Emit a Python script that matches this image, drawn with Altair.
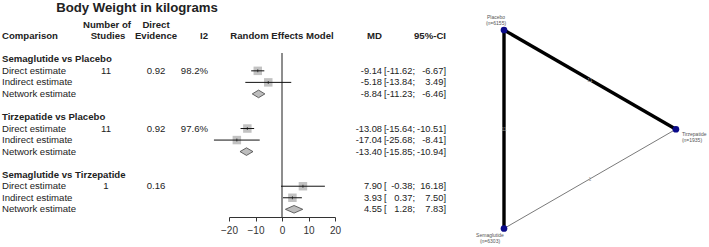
import altair as alt
import pandas as pd

# ---- Forest plot data (mean difference in body weight, kg) ----
comparisons = ["Semaglutide vs Placebo", "Tirzepatide vs Placebo", "Semaglutide vs Tirzepatide"]
n_studies = ["11", "11", "1"]
direct_evidence = ["0.92", "0.92", "0.16"]
i2 = ["98.2%", "97.6%", ""]
estimate_types = ["Direct estimate", "Indirect estimate", "Network estimate"]

md = [[-9.14, -5.18, -8.84], [-13.08, -17.04, -13.40], [7.90, 3.93, 4.55]]
ci_lower = [[-11.62, -13.84, -11.23], [-15.64, -25.68, -15.85], [-0.38, 0.37, 1.28]]
ci_upper = [[-6.67, 3.49, -6.46], [-10.51, -8.41, -10.94], [16.18, 7.50, 7.83]]

axis_ticks = [-20, -10, 0, 10, 20]

# ---- Network graph data ----
treatments = ["Placebo", "Tirzepatide", "Semaglutide"]
patients = [6155, 1935, 6303]
node_x = [-0.5, 1.0, -0.5]
node_y = [0.866, 0.0, -0.866]
edge_from = ["Placebo", "Placebo", "Semaglutide"]
edge_to = ["Tirzepatide", "Semaglutide", "Tirzepatide"]
edge_studies = [11, 11, 1]

FONT = "Liberation Sans"
INK = "#222222"
FS = 9.6

# ---- Tables built from the arrays ----
titles = pd.DataFrame({"line": [5 * g for g in range(3)], "text": comparisons})

est_rows = []
for g in range(3):
    for k in range(3):
        est_rows.append({
            "line": 5 * g + 1 + k,
            "kind": estimate_types[k],
            "md": md[g][k],
            "lo": ci_lower[g][k],
            "hi": ci_upper[g][k],
            "md_txt": f"{md[g][k]:.2f}",
            "lo_txt": f"{ci_lower[g][k]:.2f};",
            "hi_txt": f"{ci_upper[g][k]:.2f}]",
            "studies": n_studies[g] if k == 0 else "",
            "evidence": direct_evidence[g] if k == 0 else "",
            "i2": i2[g] if k == 0 else "",
        })
est = pd.DataFrame(est_rows)
squares = est[est["kind"] != "Network estimate"]
networks = est[est["kind"] == "Network estimate"]

# diamond outline: lower bound, point estimate, upper bound
half_h = 0.33
dia_rows = []
for _, r in networks.iterrows():
    for xv, w in ((r["lo"], 0.0), (r["md"], 1.0), (r["hi"], 0.0)):
        dia_rows.append({"line": r["line"], "x": xv,
                         "top": r["line"] - half_h * w, "bot": r["line"] + half_h * w})
diamonds = pd.DataFrame(dia_rows)

ticks_df = pd.DataFrame({"tick": axis_ticks})

# ---- Scales ----
yscale = alt.Scale(domain=[0, 13], range=[59.3, 209.3], nice=False, zero=False)
xscale = alt.Scale(domain=[-20, 20], range=[229, 335], nice=False, zero=False)
x_axis = alt.Axis(values=axis_ticks, offset=-30, grid=False, title=None, tickSize=4,
                  labelFontSize=10, labelPadding=4, labelFont=FONT, labelColor="#333333",
                  domainColor="#333333", tickColor="#333333", labelFlush=False)


def Y(field="line"):
    return alt.Y(f"{field}:Q", scale=yscale, axis=None)


def X(field):
    return alt.X(f"{field}:Q", scale=xscale, axis=x_axis)


def text_col(df, field, x_px, align="left", bold=False, size=FS):
    return alt.Chart(df).mark_text(
        align=align, baseline="middle", font=FONT, fontSize=size,
        fontWeight="bold" if bold else "normal", color=INK
    ).encode(x=alt.value(x_px), y=Y(), text=f"{field}:N")


def header(text, x_px, line, align="left"):
    return alt.Chart(pd.DataFrame({"line": [line], "t": [text]})).mark_text(
        align=align, baseline="middle", font=FONT, fontSize=FS, fontWeight="bold", color=INK
    ).encode(x=alt.value(x_px), y=Y(), text="t:N")


title = alt.Chart(pd.DataFrame({"t": ["Body Weight in kilograms"]})).mark_text(
    align="center", baseline="middle", font=FONT, fontSize=13.2, fontWeight="bold", color=INK
).encode(x=alt.value(137), y=alt.value(8), text="t:N")

headers = [
    header("Comparison", 2, -2),
    header("Number of", 107, -3, "center"),
    header("Studies", 108, -2, "center"),
    header("Direct", 156, -3, "center"),
    header("Evidence", 156, -2, "center"),
    header("I2", 208, -2, "right"),
    header("MD", 382, -2, "right"),
    header("95%-CI", 446, -2, "right"),
    alt.Chart(pd.DataFrame({"line": [-2], "t": ["Random Effects Model"]})).mark_text(
        align="center", baseline="middle", font=FONT, fontSize=FS, fontWeight="bold", color=INK
    ).encode(x=alt.X(datum=0, scale=xscale, axis=x_axis), y=Y(), text="t:N"),
]

CI_FS = 9.3
table = [
    text_col(titles, "text", 2, bold=True),
    text_col(est, "kind", 2),
    text_col(est, "studies", 106, "center"),
    text_col(est, "evidence", 156, "center"),
    text_col(est, "i2", 208, "right"),
    text_col(est, "md_txt", 382, "right", size=CI_FS),
    alt.Chart(est).mark_text(align="left", baseline="middle", font=FONT, fontSize=CI_FS, color=INK)
    .encode(x=alt.value(384), y=Y(), text=alt.value("[")),
    text_col(est, "lo_txt", 415, "right", size=CI_FS),
    text_col(est, "hi_txt", 446, "right", size=CI_FS),
]

zero_line = alt.Chart(ticks_df).mark_rule(color="#8a8a8a", strokeWidth=1).encode(
    x=alt.X(datum=0, scale=xscale, axis=x_axis), y=alt.value(53), y2=alt.value(217)
)

sq = alt.Chart(squares).mark_square(size=72, color="#c2c2c2", opacity=1).encode(x=X("md"), y=Y())
ci = alt.Chart(squares).mark_rule(color="#111111", strokeWidth=1).encode(
    x=X("lo"), x2="hi:Q", y=Y())
center = alt.Chart(squares).mark_tick(orient="vertical", size=3, thickness=1, color="#111111").encode(
    x=X("md"), y=Y())
dia = alt.Chart(diamonds).mark_area(orient="vertical", fill="#bdbdbd", stroke="#444444",
                                    strokeWidth=0.8, opacity=1).encode(
    x=X("x"), y=Y("top"), y2="bot:Q", detail="line:N")

forest = alt.layer(zero_line, sq, ci, center, dia, title, *headers, *table)

# ---- Network graph ----
nodes = pd.DataFrame({"treatment": treatments, "x": node_x, "y": node_y,
                      "label": [f"{t}\n(n={n})" for t, n in zip(treatments, patients)]})
pos = nodes.set_index("treatment")
edges = pd.DataFrame({"a": edge_from, "b": edge_to, "studies": edge_studies})
edges["x1"] = edges["a"].map(pos["x"])
edges["y1"] = edges["a"].map(pos["y"])
edges["x2"] = edges["b"].map(pos["x"])
edges["y2"] = edges["b"].map(pos["y"])
edges["mx"] = (edges["x1"] + edges["x2"]) / 2
edges["my"] = (edges["y1"] + edges["y2"]) / 2
edges["lab"] = edges["studies"].astype(str)

nx = alt.Scale(domain=[-1, 1], range=[446.7, 675.9], nice=False, zero=False)
ny = alt.Scale(domain=[-1, 1], range=[243.85, 14.65], nice=False, zero=False)

edge_lines = alt.Chart(edges).mark_rule(strokeCap="butt").encode(
    x=alt.X("x1:Q", scale=nx, axis=None), y=alt.Y("y1:Q", scale=ny, axis=None),
    x2="x2:Q", y2="y2:Q",
    strokeWidth=alt.StrokeWidth("studies:Q", scale=alt.Scale(domain=[1, 11], range=[1, 3.4]), legend=None),
    color=alt.Color("studies:Q", scale=alt.Scale(domain=[1, 11], range=["#7a7a7a", "#000000"]), legend=None),
)
edge_labels = alt.Chart(edges).mark_text(font=FONT, fontSize=5, color="#9a9a9a", baseline="middle").encode(
    x=alt.X("mx:Q", scale=nx, axis=None), y=alt.Y("my:Q", scale=ny, axis=None), text="lab:N")
node_pts = alt.Chart(nodes).mark_circle(size=45, color="#0b0b8a", opacity=1).encode(
    x=alt.X("x:Q", scale=nx, axis=None), y=alt.Y("y:Q", scale=ny, axis=None))


def node_label(name, align, dx, dy):
    return alt.Chart(nodes).transform_filter(alt.datum.treatment == name).mark_text(
        font=FONT, fontSize=5, color="#555555", align=align, baseline="middle",
        lineBreak="\n", lineHeight=6.5, dx=dx, dy=dy
    ).encode(x=alt.X("x:Q", scale=nx, axis=None), y=alt.Y("y:Q", scale=ny, axis=None), text="label:N")


network = alt.layer(
    edge_lines, edge_labels, node_pts,
    node_label("Placebo", "center", -8, -13.5),
    node_label("Tirzepatide", "left", 6, 4.5),
    node_label("Semaglutide", "center", -14, 6.5),
)

chart = alt.layer(forest, network).resolve_scale(
    x="independent", y="independent"
).properties(
    width=709, height=247, padding=0,
    autosize=alt.AutoSizeParams(type="none"),
    background="white",
).configure_view(stroke=None)

chart.save("out.html", embed_options={"renderer": "svg", "actions": False})
